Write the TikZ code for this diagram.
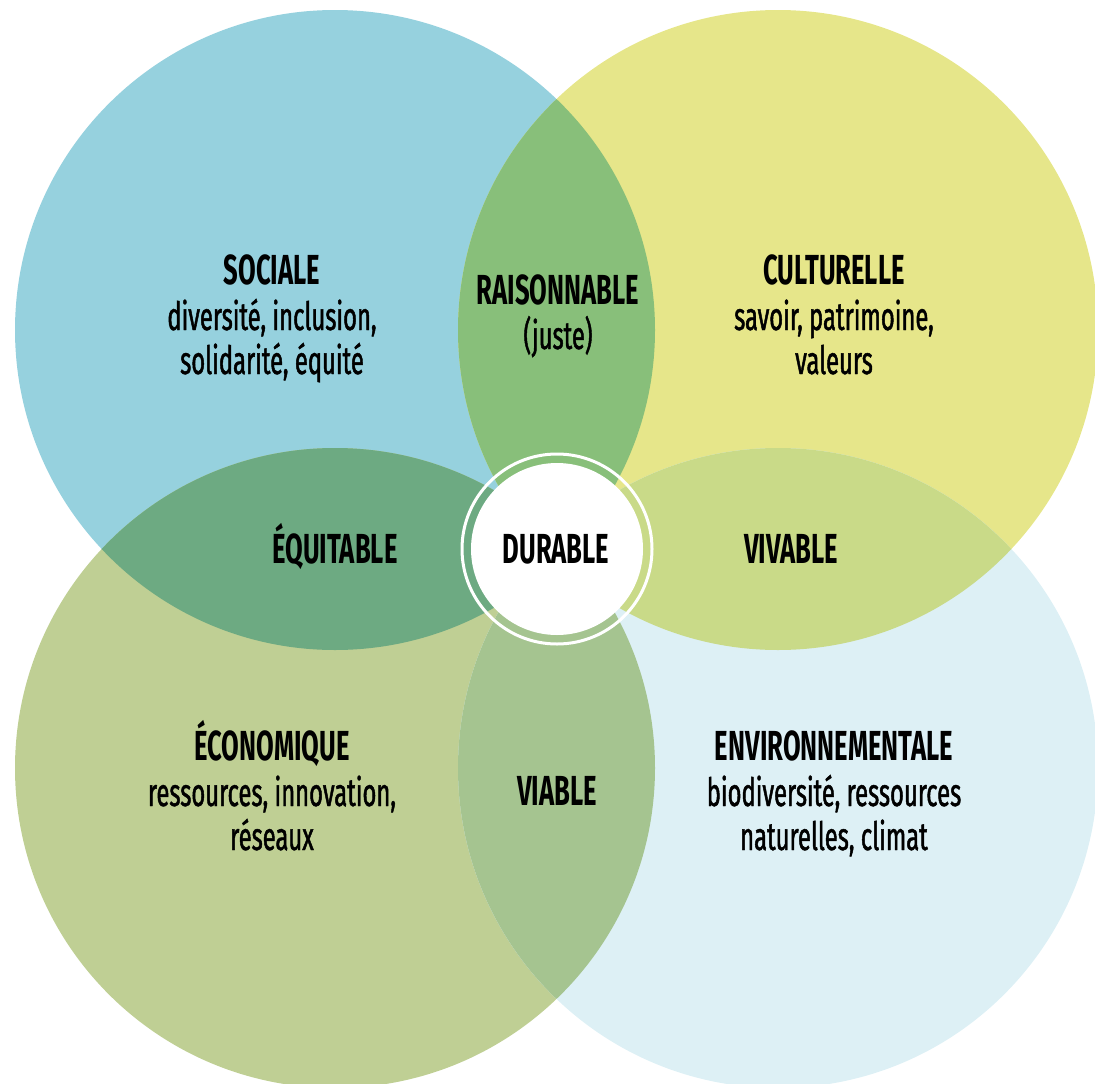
\documentclass[tikz,border=0pt]{standalone}
\usepackage{fontspec}
\setmainfont{Fira Sans}[FakeStretch=0.61]
\newfontfamily\subfont{Fira Sans}[FakeStretch=0.61, FakeBold=1.2]
\definecolor{cTL}{HTML}{96D1DE}
\definecolor{cTR}{HTML}{E6E68A}
\definecolor{cBL}{HTML}{BFCF94}
\definecolor{cBR}{HTML}{DDF0F5}
\definecolor{cTLTR}{HTML}{88BF7A}
\definecolor{cTLBL}{HTML}{6DAA82}
\definecolor{cTRBR}{HTML}{C9DA88}
\definecolor{cBLBR}{HTML}{A5C490}
\tikzset{
  ttl/.style={anchor=base, inner sep=0pt, font=\fontsize{42}{44}\selectfont\bfseries},
  sub/.style={anchor=base, inner sep=0pt, font=\subfont\fontsize{39}{44}\selectfont},
}
\begin{document}
\begin{tikzpicture}[x=1pt,y=-1pt]
\useasboundingbox (0,0) rectangle (1095,1084);
\coordinate (TL) at (335,330);
\coordinate (TR) at (778,330);
\coordinate (BL) at (335,768);
\coordinate (BR) at (778,768);
\coordinate (C) at (557,549);
% circles
\fill[cTL] (TL) circle (320pt);
\fill[cTR] (TR) circle (320pt);
\fill[cBL] (BL) circle (320pt);
\fill[cBR] (BR) circle (320pt);
% lenses
\begin{scope}\clip (TL) circle (320pt); \fill[cTLTR] (TR) circle (320pt); \end{scope}
\begin{scope}\clip (TL) circle (320pt); \fill[cTLBL] (BL) circle (320pt); \end{scope}
\begin{scope}\clip (TR) circle (320pt); \fill[cTRBR] (BR) circle (320pt); \end{scope}
\begin{scope}\clip (BL) circle (320pt); \fill[cBLBR] (BR) circle (320pt); \end{scope}
% centre
\draw[white, line width=3pt] (C) circle (95pt);
\fill[white] (C) circle (86pt);
% texts
\node[ttl] (sociale) at (272,284) {SOCIALE};
\node[sub] (s1) at (272,330) {diversité, inclusion,};
\node[sub] (s2) at (272,374) {solidarité, équité};
\node[ttl] (rais) at (558,304) {RAISONNABLE};
\node[sub] (juste) at (558,349) {(juste)};
\node[ttl] (cult) at (834,284) {CULTURELLE};
\node[sub] (c1) at (834,330) {savoir, patrimoine,};
\node[sub] (c2) at (834,374) {valeurs};
\node[ttl] (equi) at (335,563) {ÉQUITABLE};
\node[ttl] (dur) at (556,563) {DURABLE};
\node[ttl] (viv) at (791,563) {VIVABLE};
\node[ttl] (eco) at (272,760) {ÉCONOMIQUE};
\node[sub] (e1) at (272,806) {ressources, innovation,};
\node[sub] (e2) at (272,850) {réseaux};
\node[ttl] (via) at (557,805) {VIABLE};
\node[ttl] (env) at (834,760) {ENVIRONNEMENTALE};
\node[sub] (n1) at (834,806) {biodiversité, ressources};
\node[sub] (n2) at (834,850) {naturelles, climat};
\end{tikzpicture}
\end{document}
